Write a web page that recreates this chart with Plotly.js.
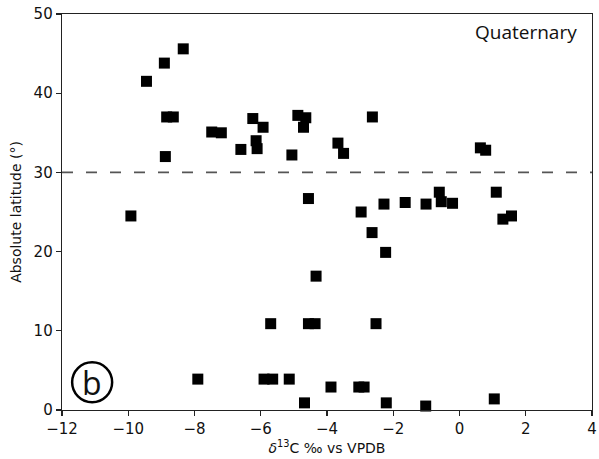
<!DOCTYPE html>
<html><head><meta charset="utf-8">
<script src="https://cdn.plot.ly/plotly-3.0.1.min.js"></script>
<style>body{margin:0;padding:0;background:#fff}#chart{width:599px;height:459px}</style>
</head><body><div id="chart"></div>
<script>
const d13C = [-9.92,-9.45,-8.91,-8.34,-8.84,-8.64,-8.88,-7.48,-7.19,-6.6,-6.24,-6.14,-6.11,-5.93,-5.06,-4.88,-4.64,-4.71,-4.56,-3.67,-3.5,-2.63,0.63,0.79,-2.97,-2.28,-1.64,-1.01,-0.61,-0.55,-0.21,1.11,1.31,1.57,-2.64,-2.23,-4.33,-5.70,-4.56,-4.36,-2.52,-7.9,-5.9,-5.64,-5.14,-4.68,-3.88,-3.04,-2.88,-2.21,-1.02,1.05];
const latitude = [24.5,41.5,43.8,45.6,37.0,37.0,32.0,35.1,35.0,32.9,36.8,34.0,33.0,35.7,32.2,37.2,36.9,35.7,26.7,33.7,32.4,37.0,33.1,32.8,25.0,26.0,26.2,26.0,27.5,26.3,26.1,27.5,24.1,24.5,22.4,19.9,16.9,10.9,10.9,10.9,10.9,3.9,3.9,3.9,3.9,0.9,2.9,2.9,2.9,0.9,0.5,1.4];
const xTicks = [-12,-10,-8,-6,-4,-2,0,2,4];
const xTickLabels = ['\u221212','\u221210','\u22128','\u22126','\u22124','\u22122','0','2','4'];
const yTicks = [0,10,20,30,40,50];
const threshold = 30;

const font = 'DejaVu Sans, sans-serif';
const axisCommon = {showline:true, linecolor:'#222', linewidth:1.3, mirror:true, ticks:'outside', ticklen:5, tickwidth:1.2, tickcolor:'#222', showgrid:false, zeroline:false, tickfont:{family:font,size:15,color:'#111'}};

Plotly.newPlot('chart', [{
  x: d13C, y: latitude, type:'scatter', mode:'markers',
  marker:{symbol:'square', size:11, color:'#000', line:{width:0}},
  cliponaxis:false, hoverinfo:'skip'
}], {
  width:599, height:459,
  margin:{l:62, r:7, t:14, b:49},
  paper_bgcolor:'#fff', plot_bgcolor:'#fff',
  showlegend:false,
  xaxis: Object.assign({}, axisCommon, {range:[-12,4], tickvals:xTicks, ticktext:xTickLabels,
    title:{text:'<i>δ</i><sup>13</sup>C ‰ vs VPDB', font:{family:font,size:14,color:'#111'}, standoff:4}}),
  yaxis: Object.assign({}, axisCommon, {range:[0,50], tickvals:yTicks,
    title:{text:'Absolute latitude (°)', font:{family:font,size:14,color:'#111'}, standoff:8}}),
  shapes:[
    {type:'line', xref:'paper', x0:0, x1:1, yref:'y', y0:threshold, y1:threshold, line:{color:'#555', width:1.6, dash:'11px,13px'}},
    {type:'circle', xref:'x', yref:'y', xsizemode:'pixel', ysizemode:'pixel', xanchor:-11.09, yanchor:3.5, x0:-20, x1:20, y0:-20, y1:20, line:{color:'#000', width:2.5}}
  ],
  annotations:[
    {text:'Quaternary', xref:'paper', yref:'paper', x:0.975, y:0.955, xanchor:'right', yanchor:'middle', showarrow:false, font:{family:'Open Sans, sans-serif', size:19, color:'#111'}},
    {text:'b', xref:'x', yref:'y', x:-11.09, y:3.5, xanchor:'center', yanchor:'middle', showarrow:false, font:{family:'Open Sans, sans-serif', size:32, color:'#111'}}
  ]
}, {staticPlot:true});
</script></body></html>
